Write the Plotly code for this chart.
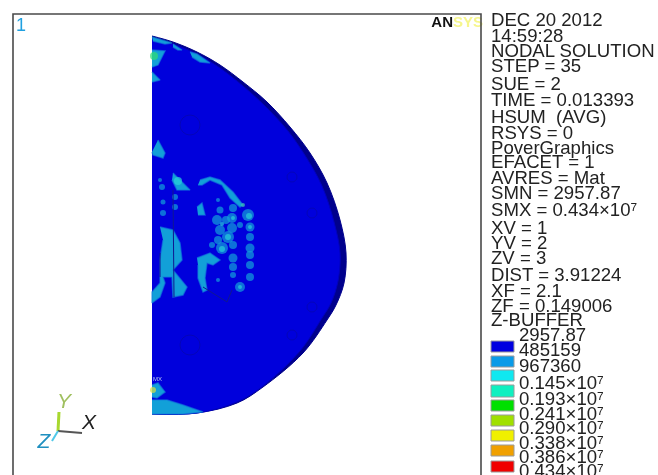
import plotly.graph_objects as go

# Model outline (image pixel units)
outer_x = [152,173,197,220,243,267,290,310,327,340,346,344,336,327,303,263,237,197,152]
outer_y = [36,42,52,65,82,102,127,153,183,220,253,283,305,320,353,387,403,413,414]
inner_x = [152,173,197,220,243,265,288,306,322,334,340,338,331,322,300,263,237,197,152]
inner_y = [38,44,54,68,86,106,131,157,186,222,253,281,303,318,351,386,402,413,414]

# Contour regions: (x list, y list)
pale_regions = [
    ([152,167,172,165,153],[37,41,43,44,41]),
    ([173,182,178,173],[44,50,50,47]),
    ([190,197,210,200,192],[52,54,63,62,57]),
    ([152,165,158,152],[50,51,65,67]),
    ([152,160,152],[72,80,82]),
    ([158,165,163,153,152],[140,153,158,155,152]),
    ([173,190,177,172],[173,190,190,180]),
    ([200,210,220,233,243,240,230,222,210,202,198],[180,177,180,192,205,207,198,185,180,185,185]),
    ([197,202,205,198],[207,203,215,215]),
    ([197,210,220,213,207,205,207,203,198,198],[258,253,260,265,263,278,290,292,278,265]),
    ([160,173,180,182,173,187,183,173,172,163,165,160,152,152,160,160,163],
     [227,230,243,260,270,287,295,297,277,277,283,297,303,292,283,260,240]),
    ([152,167,183,203,183,152],[400,400,405,412,414,414]),
    ([152,158,165,157,152],[385,383,392,398,397]),
]
spot_x = [218,220,233,217,232,248,250,220,232,228,218,250,233,222,250,233,250,233,250,233,250,218,240,226,240,212,
          160,162,163,163,175,175]
spot_y = [200,210,208,220,218,215,227,230,228,237,240,237,245,248,248,258,255,267,265,275,277,280,287,220,225,245,
          180,187,202,213,197,207]
spot_r = [2,3.5,4,5,5,6,4.5,5,5,6,4,4,4,6,4.5,4.5,4,4,4,3,4,2,5,4,3,3,
          2,3,2.5,3,3,3]
core_x = [178,249,250,233,228,222,222,240]
core_y = [181,216,227,218,237,249,224,287]
core_r = [4,3,2,2,3,3,2,2]
hot_x = [154,153,243]
hot_y = [56,390,205]
hot_c = ["#30e070","#d8e040","#40c8b0"]
hot_r = [4,3,2]
hole_x = [190,190,292,312,312,292]
hole_y = [125,345,177,213,307,335]
hole_d = [20,20,10,10,10,10]
seam_x = [[173,174],[160,160],[203,227,232]]
seam_y = [[190,297],[253,277],[287,302,290]]

# Side text
info_labels = ["DEC 20 2012","14:59:28","NODAL SOLUTION","STEP = 35","SUE = 2","TIME = 0.013393","HSUM  (AVG)",
               "RSYS = 0","PoverGraphics","EFACET = 1","AVRES = Mat","SMN = 2957.87","SMX = 0.434×10⁷",
               "XV = 1","YV = 2","ZV = 3","DIST = 3.91224","XF = 2.1","ZF = 0.149006","Z-BUFFER"]
info_y = [21,37,52,67,85,101,118,134,149,163,179,194,211,229,244,259,276,292,307,321]
level_labels = ["2957.87","485159","967360","0.145×10⁷","0.193×10⁷","0.241×10⁷",
                "0.290×10⁷","0.338×10⁷","0.386×10⁷","0.434×10⁷"]
level_y = [336,351,367,384,400,415,429,444,458,472]
band_colors = ["#0000e0","#0a9be8","#10e8f0","#10f0c0","#00e000","#a0e000","#f0f000","#f0a000","#f00000"]
band_top = [341,356,370,385,400,415,430,445,461]
band_h = [11,11,11,12,11,11,11,11,11]

FONT = "Liberation Sans, Arial, sans-serif"
PALE = "#12a0d8"
fig = go.Figure()

# Model
fig.add_trace(go.Scatter(x=outer_x, y=outer_y, mode="lines", fill="toself", fillcolor="#00008c",
                         line=dict(color="#00008c", width=1, shape="spline", smoothing=1), hoverinfo="skip"))
fig.add_trace(go.Scatter(x=inner_x, y=inner_y, mode="lines", fill="toself", fillcolor="#0000dc",
                         line=dict(color="#0000c0", width=1, shape="spline", smoothing=1), hoverinfo="skip"))
for rx, ry in pale_regions:
    fig.add_trace(go.Scatter(x=rx, y=ry, mode="lines", fill="toself", fillcolor=PALE,
                             line=dict(color="rgba(18,130,220,0.6)", width=1.5), hoverinfo="skip"))
fig.add_trace(go.Scatter(x=spot_x, y=spot_y, mode="markers",
                         marker=dict(size=[2*r for r in spot_r], color=PALE, line=dict(width=0)),
                         hoverinfo="skip"))
fig.add_trace(go.Scatter(x=core_x, y=core_y, mode="markers",
                         marker=dict(size=[2*r for r in core_r], color="#28d0d8", line=dict(width=0)), hoverinfo="skip"))
fig.add_trace(go.Scatter(x=hot_x, y=hot_y, mode="markers",
                         marker=dict(size=[2*r for r in hot_r], color=hot_c, line=dict(width=0)), hoverinfo="skip"))
fig.add_trace(go.Scatter(x=hole_x, y=hole_y, mode="markers",
                         marker=dict(size=hole_d, color="rgba(0,0,0,0)", line=dict(color="#0808a8", width=1)), hoverinfo="skip"))
for sx, sy in zip(seam_x, seam_y):
    fig.add_trace(go.Scatter(x=sx, y=sy, mode="lines", line=dict(color="#101890", width=1), hoverinfo="skip"))

# Triad
fig.add_trace(go.Scatter(x=[58,59], y=[431,412], mode="lines", line=dict(color="#a8d830", width=3), hoverinfo="skip"))
fig.add_trace(go.Scatter(x=[58,82], y=[431,433], mode="lines", line=dict(color="#555555", width=2), hoverinfo="skip"))
fig.add_trace(go.Scatter(x=[58,52], y=[431,441], mode="lines", line=dict(color="#50c8e8", width=2), hoverinfo="skip"))
for label, tx, ty, col in [("Y",64,403,"#a0c060"),("X",89,424,"#222222"),("Z",44,443,"#2090c0")]:
    fig.add_trace(go.Scatter(x=[tx], y=[ty], mode="text", text=[label], textposition="middle center",
                             textfont=dict(family=FONT, size=21, color=col, style="italic"), hoverinfo="skip"))

# Legend bands
fig.add_trace(go.Bar(x=[502.5]*len(band_top), y=band_h, base=band_top, width=23,
                     marker=dict(color=band_colors, line=dict(color="#9a9a9a", width=1)), hoverinfo="skip"))

# Text
fig.add_trace(go.Scatter(x=[491]*len(info_labels), y=info_y, mode="text", text=info_labels,
                         textposition="middle right", textfont=dict(family=FONT, size=18.6, color="#222222"), hoverinfo="skip"))
fig.add_trace(go.Scatter(x=[519]*len(level_labels), y=level_y, mode="text", text=level_labels,
                         textposition="middle right", textfont=dict(family=FONT, size=18.6, color="#222222"), hoverinfo="skip"))
fig.add_trace(go.Scatter(x=[16], y=[26], mode="text", text=["1"], textposition="middle right",
                         textfont=dict(family=FONT, size=18, color="#20a0e0"), hoverinfo="skip"))
fig.add_trace(go.Scatter(x=[153], y=[379], mode="text", text=["MX"], textposition="middle right",
                         textfont=dict(family=FONT, size=6, color="#b8c8f0"), hoverinfo="skip"))
fig.add_trace(go.Scatter(x=[453], y=[23], mode="text", text=["<b>AN</b>"], textposition="middle left",
                         textfont=dict(family=FONT, size=15, color="#111111"), hoverinfo="skip"))
fig.add_trace(go.Scatter(x=[453], y=[23], mode="text", text=["<b>SYS</b>"], textposition="middle right",
                         textfont=dict(family=FONT, size=15, color="#f6f68c"), hoverinfo="skip"))

# Frame
fig.add_trace(go.Scatter(x=[13,13,481,481], y=[475,14,14,475], mode="lines",
                         line=dict(color="#4a4a4a", width=1.6), hoverinfo="skip"))

fig.update_layout(width=658, height=475, margin=dict(l=0, r=0, t=0, b=0), showlegend=False,
                  paper_bgcolor="white", plot_bgcolor="white", barmode="overlay",
                  xaxis=dict(range=[0,658], visible=False, fixedrange=True),
                  yaxis=dict(range=[475,0], visible=False, fixedrange=True))
fig.write_html("out.html", config=dict(displayModeBar=False),
               post_script="document.body.style.margin='0';document.body.style.overflow='hidden';"
                           "document.querySelector('.plotly-graph-div').style.filter='blur(0.5px)';")
